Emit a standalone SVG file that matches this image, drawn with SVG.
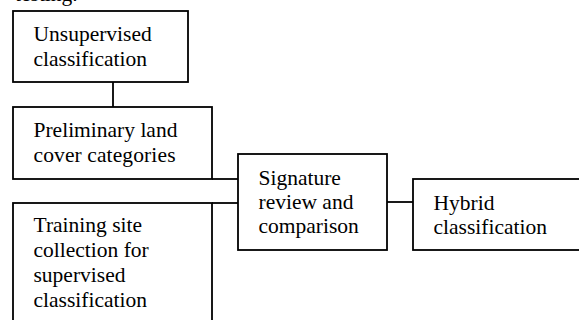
<svg xmlns="http://www.w3.org/2000/svg" width="579" height="320" viewBox="0 0 579 320">
<style>
.box{fill:#fff;stroke:#000;stroke-width:1.8}
.ln{stroke:#000;stroke-width:1.8;fill:none}
text{font-family:"Liberation Serif","Times New Roman",serif;font-size:21.5px;fill:#000}
</style>
<rect width="579" height="320" fill="#fff"/>
<text x="15" y="1">testing.</text>
<g id="connectors">
<line class="ln" x1="113" y1="82" x2="113" y2="107"/>
<line class="ln" x1="212" y1="179" x2="238" y2="179"/>
<line class="ln" x1="212" y1="203" x2="238" y2="203"/>
<line class="ln" x1="387" y1="202" x2="413" y2="202"/>
</g>
<g id="unsupervised">
<rect class="box" x="13" y="11" width="175" height="71"/>
<text x="33.5" y="41">Unsupervised</text>
<text x="33.5" y="66">classification</text>
</g>
<g id="preliminary">
<rect class="box" x="13" y="107" width="199" height="72"/>
<text x="33.5" y="137">Preliminary land</text>
<text x="33.5" y="162" textLength="142">cover categories</text>
</g>
<g id="training">
<rect class="box" x="13" y="203" width="199" height="130"/>
<text x="33.5" y="232">Training site</text>
<text x="33.5" y="257">collection for</text>
<text x="33.5" y="282">supervised</text>
<text x="33.5" y="307">classification</text>
</g>
<g id="signature">
<rect class="box" x="238" y="154" width="149" height="96"/>
<text x="258.5" y="185">Signature</text>
<text x="258.5" y="209">review and</text>
<text x="258.5" y="233">comparison</text>
</g>
<g id="hybrid">
<rect class="box" x="413" y="179" width="180" height="71"/>
<text x="433.5" y="209.5">Hybrid</text>
<text x="433.5" y="233.5">classification</text>
</g>
</svg>
